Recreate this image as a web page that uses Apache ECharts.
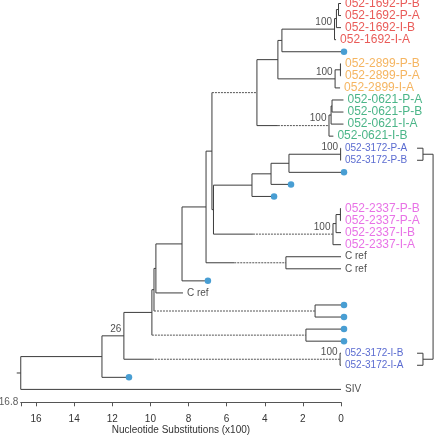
<!DOCTYPE html>
<html><head><meta charset="utf-8">
<script src="https://cdn.jsdelivr.net/npm/echarts/dist/echarts.min.js"></script>
<style>html,body{margin:0;padding:0;background:#fff}#c{width:434px;height:436px}</style>
</head><body><div id="c"></div>
<script>
// ---- DATA ----
// Leaves listed top to bottom ('' = unlabelled sampled sequence, drawn as a dot)
const leafNames = ['052-1692-P-B','052-1692-P-A','052-1692-I-B','052-1692-I-A','',
  '052-2899-P-B','052-2899-P-A','052-2899-I-A',
  '052-0621-P-A','052-0621-P-B','052-0621-I-A','052-0621-I-B',
  '052-3172-P-A','052-3172-P-B','','','',
  '052-2337-P-B','052-2337-P-A','052-2337-I-B','052-2337-I-A',
  'C ref','C ref','','C ref','','','','',
  '052-3172-I-B','052-3172-I-A','','SIV'];
// tip times (substitutions x100 before present)
const leafTimes = [0,0,0,0.26,0, 0,0,0.05, -0.13,-0.13,-0.13,0.4, 0,0,0,2.78,3.67,
  0,0,0,0, 0,0,7.14,8.29, 0,0,0,0, 0,0,11.28,0];
// internal nodes
const nodeIds = ['A','B','C','D','E','F','G','I','J','K','H','R','S','Q','P','T1','T2','T3','M','L','U','N','V','W','X1','Y1','X2','Y2','IC','Z','AA','root'];
const nodeTimes = [0.13,0.24,0.34,3.10,0.03,0.31,3.31,0.47,0.52,0.63,4.41,0.02,2.73,3.67,4.67,0.03,0.26,0.42,6.69,6.77,2.89,7.08,8.34,9.71,1.36,9.81,1.84,9.92,0.05,11.39,12.54,16.8];
const nodeChildren = [[0,1],['A',2],['B',3],['C',4],[5,6],['E',7],['D','F'],[8,9],['I',10],['J',11],['G','K'],
  [12,13],['R',14],['S',15],['Q',16],[17,18],['T1',19],['T2',20],['P','T3'],['H','M'],[21,22],['L','U'],
  ['N',23],['V',24],[25,26],['W','X1'],[27,28],['Y1','X2'],[29,30],['Y2','IC'],['Z',31],['AA',32]];
const supportNodes = ['C','F','K','R','T3','IC','Z'];
const supportValues = ['100','100','100','100','100','100','26'];
// branches drawn dashed: child node and time where dashing starts
const dashedChild = ['K','H','T3','U','X1','X2','IC'];
const dashedStart = [3.31,6.77,4.62,5.6,9.81,9.92,9.92];
const rootStubTime = 17.01;
const xTickInterval = 2;
const xMax = 16.8;
const axisTitle = 'Nucleotide Substitutions (x100)';

// ---- BUILD ----
const groupColors = {'1692':'#e3322e','2899':'#f2a33a','0621':'#1ea36a','3172':'#2f45c4','2337':'#e24fe0'};
function colorOf(name){ for (const k in groupColors) if (name.indexOf(k) >= 0) return groupColors[k]; return '#222'; }
function sizeOf(name){ return (name.indexOf('052') === 0 && name.indexOf('3172') < 0) ? 12 : 10; }
const nodeIndex = {}; nodeIds.forEach((id,i)=>nodeIndex[id]=i);
const yCache = {};
function yOf(c){
  if (typeof c === 'number') return c;
  if (yCache[c] !== undefined) return yCache[c];
  const ch = nodeChildren[nodeIndex[c]];
  const y = (yOf(ch[0]) + yOf(ch[ch.length-1]))/2;
  yCache[c] = y; return y;
}
function tOf(c){ return typeof c === 'number' ? leafTimes[c] : nodeTimes[nodeIndex[c]]; }
const solid = [], dashed = [];
nodeIds.forEach((id,i)=>{
  const t = nodeTimes[i], ch = nodeChildren[i];
  solid.push({coords:[[t, yOf(ch[0])],[t, yOf(ch[ch.length-1])]]});
  ch.forEach(c=>{
    const yc = yOf(c), tc = tOf(c);
    const di = dashedChild.indexOf(c);
    if (di >= 0) {
      const d = dashedStart[di];
      if (d < t) solid.push({coords:[[t,yc],[d,yc]]});
      dashed.push({coords:[[d,yc],[tc,yc]]});
    } else solid.push({coords:[[t,yc],[tc,yc]]});
  });
});
solid.push({coords:[[rootStubTime, yOf('root')],[xMax, yOf('root')]]});
// side brackets joining the two 052-3172 pairs
const br = [[12,13],[29,30]];
const bx0 = -3.99, bx1 = -4.30, bx2 = -4.83;
br.forEach(p=>{
  solid.push({coords:[[bx0,p[0]],[bx1,p[0]],[bx1,p[1]],[bx0,p[1]]]});
  solid.push({coords:[[bx1,(p[0]+p[1])/2],[bx2,(p[0]+p[1])/2]]});
});
solid.push({coords:[[bx2,(br[0][0]+br[0][1])/2],[bx2,(br[1][0]+br[1][1])/2]]});

const leafLabelData = [], dotData = [];
leafNames.forEach((n,i)=>{
  if (n) leafLabelData.push({value:[leafTimes[i], i], name:n, label:{color:colorOf(n), fontSize:sizeOf(n)}});
  else dotData.push([leafTimes[i], i]);
});
const supportData = supportNodes.map((id,k)=>({value:[nodeTimes[nodeIndex[id]], yOf(id)], name:supportValues[k]}));
const yMax = 33.07;
const FONT = 'Liberation Sans, Arial, sans-serif';
const hidden = {color:'rgba(0,0,0,0)'};

const chart = echarts.init(document.getElementById('c'), null, {renderer:'canvas'});
chart.setOption({
  animation:false,
  textStyle:{fontFamily:FONT},
  grid:{left:20.75, right:93, top:3.5, bottom:33.7, containLabel:false, outerBoundsMode:'none'},
  xAxis:{type:'value', inverse:true, min:0, max:xMax, interval:xTickInterval,
    axisLine:{onZero:false, lineStyle:{color:'#555', width:1}},
    axisTick:{length:4, lineStyle:{color:'#555'}},
    axisLabel:{fontSize:10, fontFamily:FONT, color:'#333', margin:12, formatter:v=> (v===xMax ? '' : String(v))},
    splitLine:{show:false},
    name:axisTitle, nameLocation:'middle', nameGap:23, nameMoveOverlap:false,
    nameTextStyle:{fontSize:10, fontFamily:FONT, color:'#333'}},
  yAxis:{type:'value', inverse:true, min:0, max:yMax, show:false},
  series:[
    {type:'lines', coordinateSystem:'cartesian2d', polyline:true, clip:false, silent:true,
      data:solid, lineStyle:{color:'#3c3c3c', width:1, opacity:1}},
    {type:'lines', coordinateSystem:'cartesian2d', polyline:true, clip:false, silent:true,
      data:dashed, lineStyle:{color:'#555', width:1, type:[2,1], opacity:1}},
    {type:'scatter', clip:false, silent:true, symbolSize:1, itemStyle:hidden, data:leafLabelData,
      label:{show:true, position:'right', distance:3.5, fontSize:10, fontFamily:FONT, formatter:p=>p.name}},
    {type:'scatter', clip:false, silent:true, symbol:'circle', symbolSize:6.5, symbolOffset:[3,0],
      itemStyle:{color:'#1a86c8'}, data:dotData},
    {type:'scatter', clip:false, silent:true, symbolSize:1, itemStyle:hidden, data:supportData,
      label:{show:true, position:'left', distance:2, offset:[0,-7], fontSize:10, fontFamily:FONT, color:'#222', formatter:p=>p.name}},
    {type:'scatter', clip:false, silent:true, symbolSize:1, itemStyle:hidden, data:[{value:[xMax, yMax], name:String(xMax)}],
      label:{show:true, position:'left', distance:2, fontSize:10, fontFamily:FONT, color:'#333', formatter:p=>p.name}}
  ]
});
</script></body></html>
